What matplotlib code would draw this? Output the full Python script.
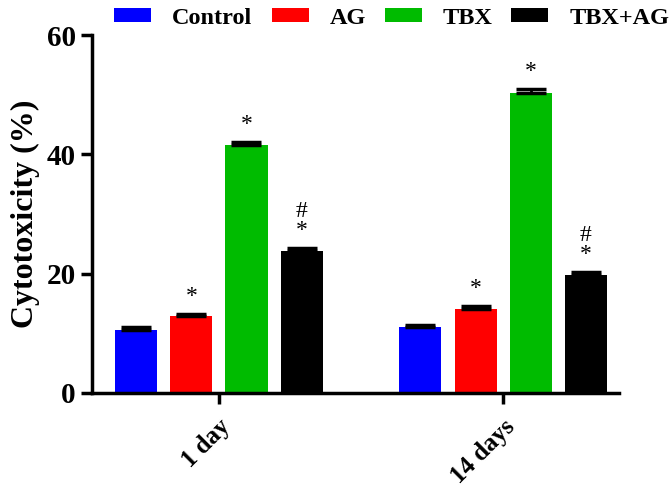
import matplotlib.pyplot as plt
import numpy as np

plt.rcParams['font.family'] = ['Liberation Serif', 'DejaVu Serif']
plt.rcParams['font.weight'] = 'bold'

groups = ['1 day', '14 days']
series = ['Control', 'AG', 'TBX', 'TBX+AG']
colors = ['#0000ff', '#ff0000', '#00bb00', '#000000']
values = {
    'Control': [10.5, 11.0],
    'AG': [12.9, 14.0],
    'TBX': [41.6, 50.2],
    'TBX+AG': [23.7, 19.7],
}
errors = {
    'Control': [0.6, 0.4],
    'AG': [0.3, 0.6],
    'TBX': [0.5, 0.7],
    'TBX+AG': [0.6, 0.6],
}
marks = {
    'Control': ['', ''],
    'AG': ['*', '*'],
    'TBX': ['*', '*'],
    'TBX+AG': ['#\n*', '#\n*'],
}

fig = plt.figure(figsize=(6.7, 5.01), dpi=100)
ax = fig.add_axes([0.138, 0.216, 0.786, 0.714])

x = np.arange(len(groups))
step = 0.194
width = 0.148
for i, s in enumerate(series):
    pos = x + (i - 1.5) * step
    v = np.array(values[s])
    e = np.array(errors[s])
    ax.bar(pos, v, width, color=colors[i], label=s, zorder=2)
    ax.errorbar(pos, v, yerr=[np.zeros_like(e), e], fmt='none', ecolor='black',
                elinewidth=2, capsize=11, capthick=2.5, zorder=3)
    for p, val, err, m in zip(pos, v, e, marks[s]):
        if m:
            ax.text(p, val + err + 1.2, m, ha='center', va='bottom',
                    fontsize=17, fontweight='normal', linespacing=0.85)

ax.set_xlim(-0.445, 1.408)
ax.set_ylim(0, 60)
ax.set_yticks([0, 20, 40, 60])
ax.set_xticks(x)
ax.set_xticklabels(groups, rotation=45, ha='right', rotation_mode='anchor')
ax.tick_params(axis='both', width=2.5, length=8)
ax.tick_params(axis='y', labelsize=21, pad=4)
ax.tick_params(axis='x', labelsize=18, pad=8)
ax.set_ylabel('Cytotoxicity (%)', fontsize=23, fontweight='bold', labelpad=5)
for sp in ['top', 'right']:
    ax.spines[sp].set_visible(False)
for sp in ['left', 'bottom']:
    ax.spines[sp].set_linewidth(2.5)

fig.legend(loc='center left', bbox_to_anchor=(114.5 / 670, 1 - 18 / 501), ncol=4,
           frameon=False, fontsize=17.5, handlelength=1.52, handleheight=0.5,
           columnspacing=0.78, handletextpad=0.86, borderpad=0, borderaxespad=0)

fig.savefig('out.png', dpi=100)
